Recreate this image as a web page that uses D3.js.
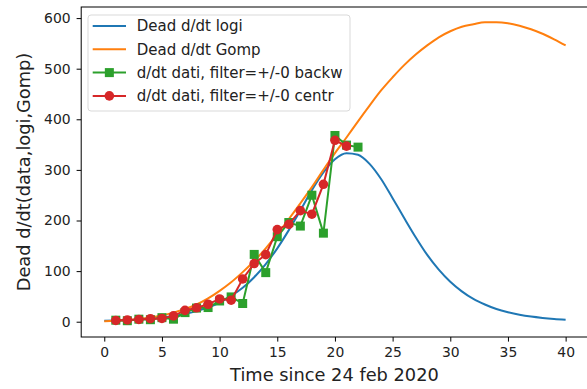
<!DOCTYPE html>
<html>
<head>
<meta charset="utf-8">
<script src="https://cdn.jsdelivr.net/npm/d3@7"></script>
<style>
  body { margin: 0; background: #fff; }
  svg { display: block; font-family: "DejaVu Sans", sans-serif; }
</style>
</head>
<body>
<div id="chart"></div>
<script>
// model curves, read at each day 0..40
var modelDays = d3.range(0, 41);
var logiValues = [1.8, 2.5, 3.3, 4.6, 6.2, 8.4, 11.4, 15.5, 21, 28, 38, 51, 67, 88, 114, 145, 181, 220, 260, 295, 321,
  333, 330, 312, 282, 244, 205, 167, 132, 103, 79, 60, 45, 34, 25, 18.6, 13.7, 10.1, 7.5, 5.5, 4.0];
var gompValues = [1.1, 2.0, 3.3, 5.3, 8.2, 12.3, 17.9, 25, 34, 46, 61, 78, 98, 120, 145, 173, 203, 234, 266, 300, 333,
  364, 396, 427, 457, 483, 507, 528, 546, 562, 574, 583, 588, 592, 592, 590, 585, 578, 569, 558, 546];

// daily deaths, backward difference (days 1..22)
var backwDays = d3.range(1, 23);
var backwValues = [3, 2, 5, 4, 8, 5, 18, 27, 28, 41, 49, 36, 133, 97, 168, 196, 189, 250, 175, 368, 349, 345];

// daily deaths, central difference (days 1..21)
var centrDays = d3.range(1, 22);
var centrValues = [2.5, 3.5, 4.5, 6, 6.5, 11.5, 22.5, 27.5, 34.5, 45, 42.5, 84.5, 115, 132.5, 182, 192.5, 219.5, 212.5, 271.5, 358.5, 347];

var xTicks = [0, 5, 10, 15, 20, 25, 30, 35, 40];
var yTicks = [0, 100, 200, 300, 400, 500, 600];

var seriesNames = ["Dead d/dt logi", "Dead d/dt Gomp", "d/dt dati, filter=+/-0 backw", "d/dt dati, filter=+/-0 centr"];
var colors = ["#1f77b4", "#ff7f0e", "#2ca02c", "#d62728"];

var W = 587, H = 389;
var margin = {top: 7, left: 81.2},
    width = 507.5,
    height = 330;

var svg = d3.select("#chart").append("svg")
    .attr("width", W)
    .attr("height", H);

var g = svg.append("g")
    .attr("transform", "translate(" + margin.left + "," + margin.top + ")");

var x = d3.scaleLinear().domain([-2, 42]).range([0, width]);
var y = d3.scaleLinear().domain([-30.2, 621.9]).range([height, 0]);

// axes
var xAxis = g.append("g")
    .attr("transform", "translate(0," + height + ")")
    .call(d3.axisBottom(x).tickValues(xTicks).tickSize(4.6).tickPadding(5.5).tickFormat(d3.format("d")));
var yAxis = g.append("g")
    .call(d3.axisLeft(y).tickValues(yTicks).tickSize(4.6).tickPadding(6).tickFormat(d3.format("d")));

[xAxis, yAxis].forEach(function(a) {
  a.select(".domain").remove();
  a.selectAll("line").attr("stroke", "#000").attr("stroke-width", 1);
  a.selectAll("text").attr("fill", "#222").style("font-size", "13.9px").style("font-family", "DejaVu Sans");
});

// spines
g.append("rect")
    .attr("x", 0).attr("y", 0)
    .attr("width", width).attr("height", height)
    .attr("fill", "none")
    .attr("stroke", "#000")
    .attr("stroke-width", 1);

var line = d3.line()
    .x(function(d) { return x(d[0]); })
    .y(function(d) { return y(d[1]); });

var smooth = d3.line()
    .curve(d3.curveMonotoneX)
    .x(function(d) { return x(d[0]); })
    .y(function(d) { return y(d[1]); });

var plot = g.append("g");

plot.append("path")
    .datum(d3.zip(modelDays, logiValues))
    .attr("fill", "none").attr("stroke", colors[0]).attr("stroke-width", 2)
    .attr("d", smooth);

plot.append("path")
    .datum(d3.zip(modelDays, gompValues))
    .attr("fill", "none").attr("stroke", colors[1]).attr("stroke-width", 2)
    .attr("d", smooth);

// backward difference, squares
var backw = d3.zip(backwDays, backwValues);
plot.append("path")
    .datum(backw)
    .attr("fill", "none").attr("stroke", colors[2]).attr("stroke-width", 2)
    .attr("d", line);
plot.selectAll(".sq").data(backw).enter().append("rect")
    .attr("class", "sq")
    .attr("x", function(d) { return x(d[0]) - 4.5; })
    .attr("y", function(d) { return y(d[1]) - 4.5; })
    .attr("width", 9).attr("height", 9)
    .attr("fill", colors[2]);

// central difference, circles
var centr = d3.zip(centrDays, centrValues);
plot.append("path")
    .datum(centr)
    .attr("fill", "none").attr("stroke", colors[3]).attr("stroke-width", 2)
    .attr("d", line);
plot.selectAll(".dot").data(centr).enter().append("circle")
    .attr("class", "dot")
    .attr("cx", function(d) { return x(d[0]); })
    .attr("cy", function(d) { return y(d[1]); })
    .attr("r", 4.8)
    .attr("fill", colors[3]);

// axis labels
svg.append("text")
    .attr("x", margin.left + width / 2 - 0.5)
    .attr("y", 381)
    .attr("text-anchor", "middle")
    .style("font-size", "17.8px")
    .attr("fill", "#222")
    .text("Time since 24 feb 2020");

svg.append("text")
    .attr("transform", "translate(30," + (margin.top + height / 2) + ") rotate(-90)")
    .attr("text-anchor", "middle")
    .style("font-size", "17.8px")
    .attr("fill", "#222")
    .text("Dead d/dt(data,logi,Gomp)");

// legend
var legend = svg.append("g").attr("transform", "translate(88,15)");
legend.append("rect")
    .attr("width", 262).attr("height", 96)
    .attr("rx", 3).attr("ry", 3)
    .attr("fill", "#fff").attr("fill-opacity", 0.8)
    .attr("stroke", "#d9d9d9").attr("stroke-width", 1);

seriesNames.forEach(function(name, i) {
  var cy = 11 + i * 23.3;
  var row = legend.append("g").attr("transform", "translate(0," + cy + ")");
  row.append("line")
      .attr("x1", 4.7).attr("x2", 38)
      .attr("y1", 0).attr("y2", 0)
      .attr("stroke", colors[i]).attr("stroke-width", 2);
  if (i === 2) {
    row.append("rect").attr("x", 21.35 - 4.5).attr("y", -4.5).attr("width", 9).attr("height", 9).attr("fill", colors[i]);
  }
  if (i === 3) {
    row.append("circle").attr("cx", 21.35).attr("cy", 0).attr("r", 4.8).attr("fill", colors[i]);
  }
  row.append("text")
      .attr("x", 48.7)
      .attr("y", 0)
      .attr("dy", "0.36em")
      .style("font-size", "15px")
      .attr("fill", "#222")
      .text(name);
});
</script>
</body>
</html>
